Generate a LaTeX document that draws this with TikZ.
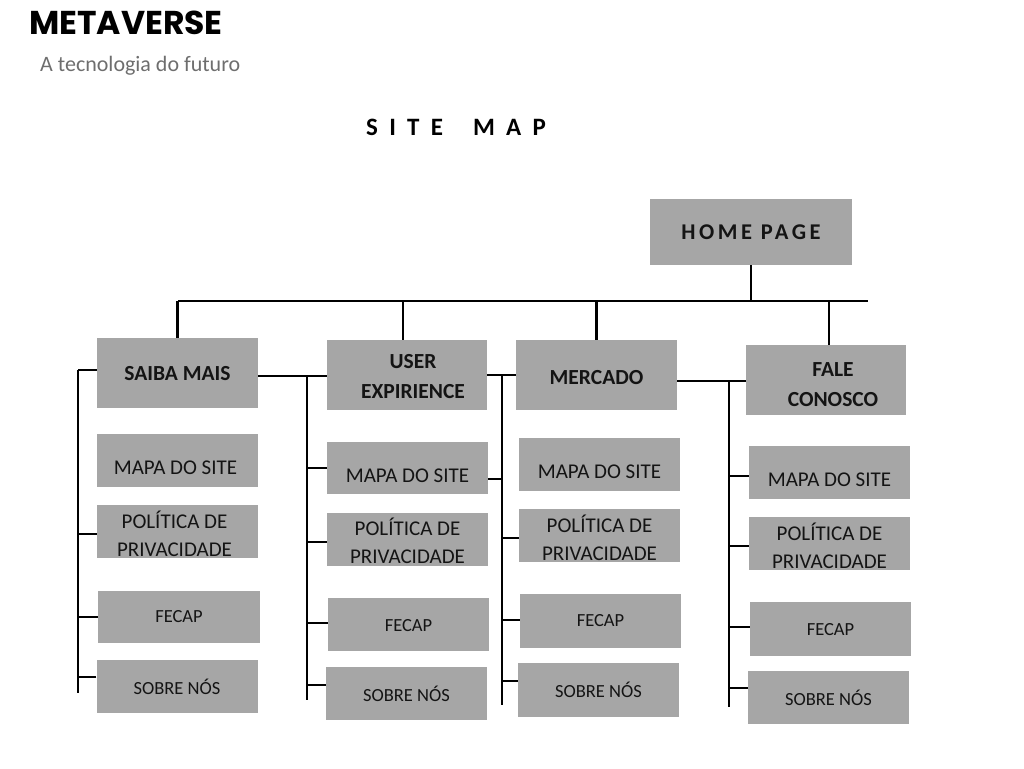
\documentclass[tikz,border=0pt]{standalone}
\usepackage{fontspec}
\setmainfont{Carlito}
\newfontfamily\titlefont{Poppins}
\newfontfamily\spacedfont[LetterSpace=45]{Carlito}
\newfontfamily\homefont[LetterSpace=16]{Carlito}
\definecolor{boxgray}{HTML}{A6A6A6}
\definecolor{txt}{HTML}{141414}
\definecolor{subgray}{HTML}{6E6E6E}
\begin{document}
\begin{tikzpicture}[x=1pt,y=-1pt,
  box/.style={fill=boxgray, inner sep=0pt, minimum width=161pt, minimum height=53pt},
  hdr/.style={box, minimum height=70pt},
  sub/.style={font=\fontsize{21}{28}\selectfont, align=center, text=txt, inner sep=0pt},
  subs/.style={font=\fontsize{18.5}{26}\selectfont, align=center, text=txt, inner sep=0pt},
  hdt/.style={font=\fontsize{21.5}{30}\selectfont\bfseries, align=center, text=txt, inner sep=0pt},
  wire/.style={line width=2.4pt, draw=black}]
\useasboundingbox (0,0) rectangle (1024,768);

% titles
\node[anchor=west, inner sep=0pt, font=\titlefont\bfseries\fontsize{33}{40}\selectfont] (title) at (29,23) {METAVERSE};
\node[anchor=west, inner sep=0pt, text=subgray, font=\fontsize{22}{26}\selectfont] (subtitle) at (40,66) {A tecnologia do futuro};
\node[anchor=west, inner sep=0pt, font=\spacedfont\bfseries\fontsize{25}{30}\selectfont] (sitemap) at (366,127) {SITE\hspace*{30pt}MAP};

% home
\node[box, minimum width=202pt, minimum height=66pt,
  label={[inner sep=0pt, text=txt, font=\homefont\bfseries\fontsize{22.5}{28}\selectfont]center:HOME PAGE}] (home) at (751,232) {};

% headers
\node[hdr, label={[hdt, yshift=-1pt]center:SAIBA MAIS}] (saiba) at (177.5,373) {};
\node[hdr, minimum width=160pt, label={[hdt, xshift=6pt, yshift=-2pt]center:USER\\EXPIRIENCE}] (user) at (407,375) {};
\node[hdr, label={[hdt, yshift=-3pt]center:MERCADO}] (merc) at (596.5,375) {};
\node[hdr, minimum width=160pt, label={[hdt, xshift=7pt, yshift=-5pt]center:FALE\\CONOSCO}] (fale) at (826,380) {};

% column 1
\node[box, label={[sub, xshift=-2pt, yshift=-7.5pt]center:MAPA DO SITE}] (map1) at (177.5,460.5) {};
\node[box, label={[sub, xshift=-3pt, yshift=-2.5pt]center:POLÍTICA DE\\PRIVACIDADE}] (pol1) at (177.5,531.5) {};
\node[box, minimum width=162pt, minimum height=52pt, label={[subs]center:FECAP}] (fec1) at (179,617) {};
\node[box, label={[subs]center:SOBRE NÓS}] (sob1) at (177,686.5) {};

% column 2
\node[box, minimum height=52pt, label={[sub, yshift=-8pt]center:MAPA DO SITE}] (map2) at (407.5,468) {};
\node[box, label={[sub, yshift=-1.5pt]center:POLÍTICA DE\\PRIVACIDADE}] (pol2) at (407.5,539.5) {};
\node[box, label={[subs, yshift=-1.5pt]center:FECAP}] (fec2) at (408.5,624.5) {};
\node[box, label={[subs]center:SOBRE NÓS}] (sob2) at (406.5,693.5) {};

% column 3
\node[box, label={[sub, yshift=-7.5pt]center:MAPA DO SITE}] (map3) at (599.5,464.5) {};
\node[box, label={[sub, yshift=-2.5pt]center:POLÍTICA DE\\PRIVACIDADE}] (pol3) at (599.5,535.5) {};
\node[box, minimum height=54pt, label={[subs]center:FECAP}] (fec3) at (600.5,621) {};
\node[box, minimum height=54pt, label={[subs]center:SOBRE NÓS}] (sob3) at (598.5,690) {};

% column 4
\node[box, label={[sub, yshift=-7.5pt]center:MAPA DO SITE}] (map4) at (829.5,472.5) {};
\node[box, label={[sub, yshift=-2.5pt]center:POLÍTICA DE\\PRIVACIDADE}] (pol4) at (829.5,543.5) {};
\node[box, minimum height=54pt, label={[subs, yshift=-1pt]center:FECAP}] (fec4) at (830.5,629) {};
\node[box, label={[subs]center:SOBRE NÓS}] (sob4) at (828.5,697.5) {};

% top bus
\coordinate (busL) at (178,301);
\coordinate (busR) at (868,301);
\draw[wire] (busL) -- (busR);
\draw[wire] (home.south) -- (home.south |- busL);
\draw[wire] (saiba.north) -- (saiba.north |- busL);
\draw[wire] ([xshift=-4pt]user.north) -- ([xshift=-4pt]user.north |- busL);
\draw[wire] (merc.north) -- (merc.north |- busL);
\draw[wire] ([xshift=3pt]fale.north) -- ([xshift=3pt]fale.north |- busL);

% column 1 bus
\coordinate (b1t) at (78,370);
\coordinate (b1b) at (78,693);
\draw[wire] (b1t) -- (b1b);
\draw[wire] (b1t) -- (b1t -| saiba.west);
\draw[wire] ([yshift=-2.5pt]pol1.west) -- ([yshift=-2.5pt]pol1.west -| b1t);
\draw[wire] (fec1.west) -- (fec1.west -| b1t);
\draw[wire] ([yshift=9.5pt]sob1.west) -- ([yshift=9.5pt]sob1.west -| b1t);

% column 2 bus
\coordinate (b2t) at (307,376);
\coordinate (b2b) at (307,700);
\draw[wire] (saiba.east |- b2t) -- (user.west |- b2t);
\draw[wire] (b2t) -- (b2b);
\draw[wire] (map2.west) -- (map2.west -| b2t);
\draw[wire] ([yshift=-2.5pt]pol2.west) -- ([yshift=-2.5pt]pol2.west -| b2t);
\draw[wire] ([yshift=1.5pt]fec2.west) -- ([yshift=1.5pt]fec2.west -| b2t);
\draw[wire] ([yshift=8.5pt]sob2.west) -- ([yshift=8.5pt]sob2.west -| b2t);

% column 3 bus
\coordinate (b3t) at (502,375);
\coordinate (b3b) at (502,705);
\draw[wire] (user.east |- b3t) -- (merc.west |- b3t);
\draw[wire] (b3t) -- (b3b);
\draw[wire] ([yshift=-11pt]map2.east) -- ([yshift=-11pt]map2.east -| b3t);
\draw[wire] ([yshift=-2.5pt]pol3.west) -- ([yshift=-2.5pt]pol3.west -| b3t);
\draw[wire] ([yshift=1pt]fec3.west) -- ([yshift=1pt]fec3.west -| b3t);
\draw[wire] ([yshift=9pt]sob3.west) -- ([yshift=9pt]sob3.west -| b3t);

% column 4 bus
\coordinate (b4t) at (729,381);
\coordinate (b4b) at (729,707);
\draw[wire] (merc.east |- b4t) -- (fale.west |- b4t);
\draw[wire] (b4t) -- (b4b);
\draw[wire] ([yshift=-3.5pt]map4.west) -- ([yshift=-3.5pt]map4.west -| b4t);
\draw[wire] ([yshift=-2.5pt]pol4.west) -- ([yshift=-2.5pt]pol4.west -| b4t);
\draw[wire] ([yshift=2pt]fec4.west) -- ([yshift=2pt]fec4.west -| b4t);
\draw[wire] ([yshift=9.5pt]sob4.west) -- ([yshift=9.5pt]sob4.west -| b4t);
\end{tikzpicture}
\end{document}
